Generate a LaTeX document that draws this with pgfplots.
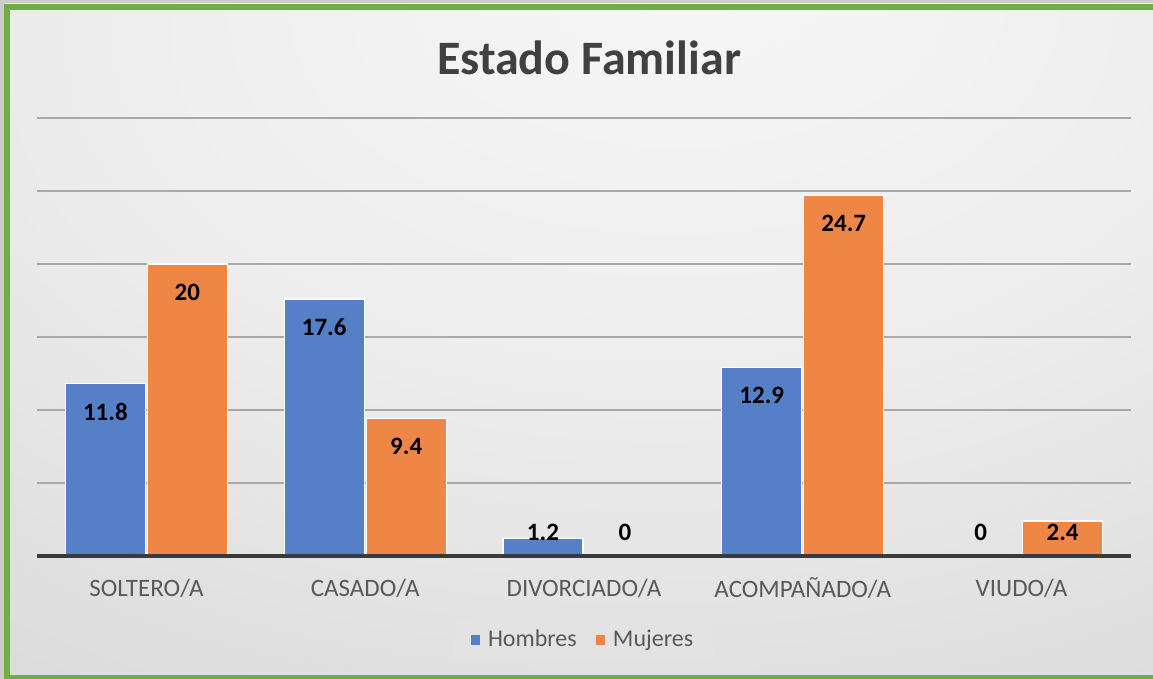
\documentclass[border=0pt]{standalone}
\usepackage{fontspec}
\setmainfont{Carlito}
\usepackage{pgfplots}
\pgfplotsset{compat=1.18}
\definecolor{hblue}{HTML}{5580C8}
\definecolor{morange}{HTML}{EE8646}
\definecolor{frame}{HTML}{70AD47}
\definecolor{titlegray}{HTML}{404040}
\definecolor{labgray}{HTML}{595959}
\definecolor{gridgray}{HTML}{A8A8A8}
\definecolor{basegray}{HTML}{3A3A3A}
\definecolor{legfill}{HTML}{E3E3E3}
\pgfdeclareradialshading{bgshade}{\pgfpoint{5bp}{30bp}}{%
  color(0bp)=(white!97!black); color(25bp)=(white!93!black);
  color(55bp)=(white!84!black); color(95bp)=(white!77!black)}

\begin{document}
\begin{tikzpicture}
\useasboundingbox (-18.5pt,-61.5pt) rectangle (558pt,278pt);
\begin{scope}
  \clip (-18.5pt,-61.5pt) rectangle (558pt,278pt);
  \fill[white!80!black] (-18.5pt,-61.5pt) rectangle (558pt,278pt);
  \shade[shading=bgshade] (-16pt,-61pt) rectangle (558pt,276pt);
  \draw[frame, line width=3pt] (558pt,-61pt) -- (-14.75pt,-61pt) -- (-14.75pt,274.5pt) -- (558pt,274.5pt);
\end{scope}
\node[font=\bfseries\fontsize{24}{28}\selectfont, text=titlegray] at (276pt,249pt) {Estado Familiar};
\begin{axis}[
    at={(0pt,0pt)}, anchor=south west,
    scale only axis, clip=false,
    width=547pt, height=219pt,
    ybar=1pt, bar width=40pt,
    xmin=-0.5, xmax=4.5,
    ymin=0, ymax=30,
    axis x line*=bottom, axis y line*=left,
    x axis line style={draw=none},
    y axis line style={draw=none},
    xtick={0,1,2,3,4},
    xticklabels={SOLTERO/A,CASADO/A,DIVORCIADO/A,ACOMPAÑADO/A,VIUDO/A},
    xticklabel style={font=\fontsize{12.5}{14}\selectfont, text=labgray, anchor=center, yshift=-16pt},
    ytick={5,10,15,20,25,30},
    yticklabels={},
    major tick length=0pt,
    ymajorgrids,
    grid style={line width=1pt, draw=gridgray},
    legend style={at={(0.5,-0.192)}, anchor=center, legend columns=-1,
        draw=none, fill=legfill,
        font=\fontsize{12}{14}\selectfont, text=labgray,
        inner xsep=8pt, inner ysep=3pt,
        /tikz/every odd column/.append style={column sep=2pt},
        /tikz/every even column/.append style={column sep=7.5pt}},
    legend image code/.code={\fill[#1, draw=none] (0pt,-2.3pt) rectangle (4.6pt,2.3pt);},
    nodes near coords={\pgfmathprintnumber{\pgfplotspointmeta}},
    /pgf/number format/assume math mode=true,
    visualization depends on={y \as \rawy},
    every node near coord/.append style={font=\bfseries\fontsize{12.5}{14}\selectfont,
        text=black, anchor=center,
        yshift={(max(\rawy-1.92,1.64)-\rawy)*7.3pt}},
]
\addplot[fill=hblue, draw=white, line width=0.6pt]
    coordinates {(0,11.8) (1,17.6) (2,1.2) (3,12.9) (4,0)};
\addlegendentry{Hombres}
\addplot[fill=morange, draw=white, line width=0.6pt]
    coordinates {(0,20) (1,9.4) (2,0) (3,24.7) (4,2.4)};
\addlegendentry{Mujeres}
\draw[basegray, line width=1.6pt] (axis cs:-0.5,0) -- (axis cs:4.5,0);
\end{axis}
\end{tikzpicture}
\end{document}
